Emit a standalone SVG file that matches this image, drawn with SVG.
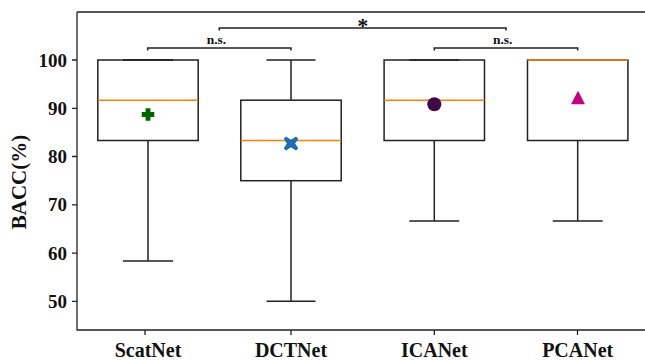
<svg xmlns="http://www.w3.org/2000/svg" width="645" height="360" viewBox="0 0 645 360">
<style>
.ax{stroke:#222;stroke-width:1.3;fill:none}
.bx{stroke:#222;stroke-width:1.5;fill:#fff}
.wh{stroke:#222;stroke-width:1.5;fill:none}
.md{stroke:#ff7f0e;stroke-width:1.6;fill:none}
.tl{font-family:"Liberation Serif","Times New Roman",serif;font-weight:bold;font-size:19px;fill:#111}
.xl{font-family:"Liberation Serif","Times New Roman",serif;font-weight:bold;font-size:20px;fill:#111;text-anchor:middle}
.ns{font-family:"Liberation Serif","Times New Roman",serif;font-weight:bold;font-size:13.5px;fill:#111;text-anchor:middle}
.br{stroke:#222;stroke-width:1.5;fill:none}
</style>
<rect width="645" height="360" fill="#fff"/>
<g id="axes">
<path class="ax" d="M77,12 H645 M77,12 V330 H645"/>
<path class="ax" d="M72,60 H77 M72,108.3 H77 M72,156.5 H77 M72,204.8 H77 M72,253.1 H77 M72,301.3 H77"/>
<path class="ax" d="M145,330 V335 M291,330 V335 M434.3,330 V335 M577.5,330 V335"/>
<g class="tl" text-anchor="end">
<text x="67" y="66.5">100</text>
<text x="67" y="114.8">90</text>
<text x="67" y="163">80</text>
<text x="67" y="211.3">70</text>
<text x="67" y="259.6">60</text>
<text x="67" y="307.8">50</text>
</g>
<text class="xl" x="148" y="357">ScatNet</text>
<text class="xl" x="291" y="357">DCTNet</text>
<text class="xl" x="434.3" y="357">ICANet</text>
<text class="xl" x="577.7" y="357">PCANet</text>
<text class="xl" style="font-size:21px" transform="translate(26,182) rotate(-90)">BACC(%)</text>
</g>
<g id="ScatNet">
<path class="wh" d="M148,140.5 V261.1 M123,261.1 H173 M123,60 H173"/>
<rect class="bx" x="97.8" y="60" width="100.4" height="80.5"/>
<path class="wh" d="M123,60 H173"/>
<path class="md" d="M97.8,100.2 H198.2"/>
<path d="M145.6,108.2 h4.8 v3.9 h3.9 v4.8 h-3.9 v3.9 h-4.8 v-3.9 h-3.9 v-4.8 h3.9 z" fill="#006400"/>
</g>
<g id="DCTNet">
<path class="wh" d="M291,60 V100.2 M266.5,60 H315.5 M291,180.7 V301.3 M266.5,301.3 H315.5"/>
<rect class="bx" x="240.8" y="100.2" width="100.4" height="80.5"/>
<path class="md" d="M240.8,140.5 H341.2"/>
<path d="M286,136.5 l5,3.2 l5,-3.2 l2.3,2.3 l-3.2,4.7 l3.2,4.7 l-2.3,2.3 l-5,-3.2 l-5,3.2 l-2.3,-2.3 l3.2,-4.7 l-3.2,-4.7 z" fill="#1f6db1"/>
</g>
<g id="ICANet">
<path class="wh" d="M434.3,140.5 V220.9 M409.3,220.9 H459.3"/>
<rect class="bx" x="384.1" y="60" width="100.4" height="80.5"/>
<path class="wh" d="M409.3,60 H459.3"/>
<path class="md" d="M384.1,100.2 H484.5"/>
<circle cx="434.3" cy="104.3" r="7" fill="#3f0a47"/>
</g>
<g id="PCANet">
<path class="wh" d="M577.7,140.5 V220.9 M552.7,220.9 H602.7"/>
<rect class="bx" x="527.5" y="60" width="100.4" height="80.5"/>
<path class="md" d="M527.5,60 H627.9"/>
<path d="M578,90.7 L585,104.3 L571,104.3 Z" fill="#c2007f"/>
</g>
<g id="connectors">
<path class="br" d="M219.3,30.5 V28 H506 V30.5"/>
<path class="br" d="M147.7,50.5 V48 H291 V50.5"/>
<path class="br" d="M434.3,50.5 V48 H577.7 V50.5"/>
<text class="xl" style="font-size:22px" x="362.7" y="33">*</text>
<text class="ns" x="216.5" y="43.5">n.s.</text>
<text class="ns" x="502.7" y="43.5">n.s.</text>
</g>
</svg>
